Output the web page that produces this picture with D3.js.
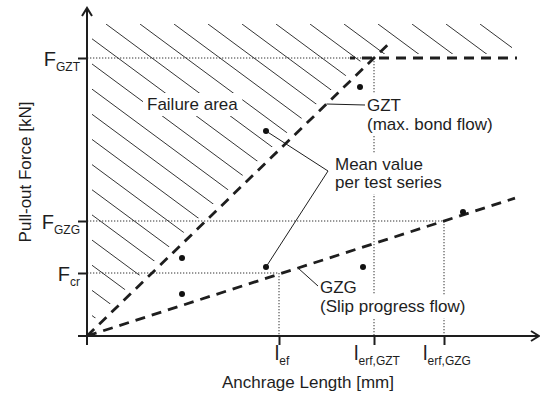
<!DOCTYPE html>
<html><head><meta charset="utf-8">
<script src="https://cdn.jsdelivr.net/npm/d3@7"></script>
<style>
body{margin:0;background:#fff}
svg{display:block;font-family:"Liberation Sans",Arial,Helvetica,sans-serif}
</style></head><body>
<svg id="chart" width="540" height="397"></svg>
<script>
// Schematic units: anchorage length (x) and pull-out force (y)
const axisMax = [452, 328];

// Characteristic lengths on the x axis
const lengthValues = [192, 287, 357];
const lengthSubs = ["ef", "erf,GZT", "erf,GZG"];

// Characteristic forces on the y axis (same order: each force belongs to the length above)
const forceValues = [63, 278, 115];
const forceSubs = ["cr", "GZT", "GZG"];

// Mean value per test series
const meanX = [95, 95, 179, 179, 276, 273, 376];
const meanY = [78, 42, 205, 69, 69, 249, 124];

// Limit lines: GZT rises to F_GZT at l_erf,GZT then stays level; GZG reaches F_GZG at l_erf,GZG
const gztRiseX = [0, 304];
const gztPlateauX = [263, 430];
const gzgX = [0, 428];

const svg = d3.select("#chart");
const ink = "#1e1e1e";

const x = d3.scaleLinear().domain([0, axisMax[0]]).range([87, 539]);
const y = d3.scaleLinear().domain([0, axisMax[1]]).range([336, 8]);

const lGZT = lengthValues[1], lGZG = lengthValues[2];
const fGZT = forceValues[1], fGZG = forceValues[2];
const gztSlope = fGZT / lGZT;
const gzgSlope = fGZG / lGZG;

// ---- Hatched failure area (above the GZT limit) ----
const slopePx = (y(0) - y(fGZT)) / (x(lGZT) - x(0));
const hx0 = x(0) + 5, hTop = 24, hRight = x(425), hBottom = y(fGZT) - 4, gap = 10;
const diagX = py => x(0) + (y(0) - py) / slopePx - gap;
const leftBottom = y(0) - (hx0 - x(0) + gap) * slopePx;
svg.append("clipPath").attr("id", "hatchClip")
  .append("polygon")
  .attr("points", [[hx0, hTop], [hRight, hTop], [hRight, hBottom], [diagX(hBottom), hBottom], [hx0, leftBottom]]
    .map(p => p.join(",")).join(" "));

const hatch = svg.append("g").attr("clip-path", "url(#hatchClip)");
const hatchSlope = 0.74, hatchStep = 34;
for (let k = -14; k <= 14; k++) {
  const xs = 106 + hatchStep * k;
  hatch.append("line")
    .attr("x1", xs).attr("y1", hTop)
    .attr("x2", xs + 500).attr("y2", hTop + 500 * hatchSlope)
    .attr("stroke", ink).attr("stroke-width", 0.9);
}

// ---- Dotted guide lines ----
const guides = svg.append("g").attr("stroke", "#333").attr("stroke-width", 1)
  .attr("stroke-dasharray", "1.3,1.7").attr("fill", "none");
forceValues.forEach((f, i) => {
  guides.append("line").attr("x1", x(0)).attr("x2", x(lengthValues[i]))
    .attr("y1", y(f)).attr("y2", y(f));
  guides.append("line").attr("x1", x(lengthValues[i])).attr("x2", x(lengthValues[i]))
    .attr("y1", y(f)).attr("y2", y(0));
});

// ---- Annotation text with white knock-out boxes ----
const notes = svg.append("g").attr("font-size", 17).attr("fill", ink);
function note(tx, ty, str) {
  const t = notes.append("text").attr("x", tx).attr("y", ty).text(str);
  const b = t.node().getBBox();
  notes.insert("rect", "text")
    .attr("x", b.x - 4).attr("y", b.y - 2).attr("width", b.width + 8).attr("height", b.height + 4)
    .attr("fill", "#fff");
  return t;
}
note(147, 110, "Failure area");
note(367, 111, "GZT");
note(367, 130, "(max. bond flow)");
note(335, 170, "Mean value");
note(335, 188, "per test series");
note(320, 293, "GZG");
note(320, 312, "(Slip progress flow)");

// ---- Limit lines (dashed) ----
const line = d3.line().x(d => x(d[0])).y(d => y(d[1]));
const limits = svg.append("g").attr("fill", "none").attr("stroke", ink)
  .attr("stroke-width", 2.8).attr("stroke-dasharray", "10,7");
limits.append("path").attr("d", line(gztRiseX.map(v => [v, v * gztSlope])));
limits.append("path").attr("d", line(gztPlateauX.map(v => [v, fGZT])))
  .attr("stroke-dashoffset", 5);
limits.append("path").attr("d", line(gzgX.map(v => [v, v * gzgSlope])));

// ---- Axes ----
const axes = svg.append("g").attr("stroke", ink).attr("stroke-width", 2).attr("fill", "none");
axes.append("line").attr("x1", x(0) - 9).attr("x2", x(axisMax[0])).attr("y1", y(0)).attr("y2", y(0));
axes.append("line").attr("x1", x(0)).attr("x2", x(0)).attr("y1", y(0) + 9).attr("y2", y(axisMax[1]));
axes.append("polyline").attr("points",
  `${x(0) - 5},${y(axisMax[1]) + 8} ${x(0)},${y(axisMax[1])} ${x(0) + 5},${y(axisMax[1]) + 8}`);
axes.append("polyline").attr("points",
  `${x(axisMax[0]) - 8},${y(0) - 5} ${x(axisMax[0])},${y(0)} ${x(axisMax[0]) - 8},${y(0) + 5}`);

const xAxis = svg.append("g").attr("transform", `translate(0,${y(0)})`)
  .call(d3.axisBottom(x).tickValues(lengthValues).tickSize(9).tickFormat(""));
const yAxis = svg.append("g").attr("transform", `translate(${x(0)},0)`)
  .call(d3.axisLeft(y).tickValues(forceValues).tickSize(9).tickFormat(""));
[xAxis, yAxis].forEach(g => {
  g.select(".domain").remove();
  g.selectAll(".tick line").attr("stroke", ink).attr("stroke-width", 2);
});

// Tick labels with subscripts
const tickLabels = svg.append("g").attr("fill", ink);
lengthValues.forEach((v, i) => {
  const t = tickLabels.append("text").attr("x", x(v) + 3).attr("y", y(0) + 24)
    .attr("text-anchor", "middle").attr("font-size", 20);
  t.append("tspan").text("l");
  t.append("tspan").attr("font-size", 12).attr("dy", 5).text(lengthSubs[i]);
});
forceValues.forEach((v, i) => {
  const t = tickLabels.append("text").attr("x", x(0) - 7).attr("y", y(v) + 8)
    .attr("text-anchor", "end").attr("font-size", 20);
  t.append("tspan").text("F");
  t.append("tspan").attr("font-size", 12).attr("dy", 5).text(forceSubs[i]);
});

// Axis titles
svg.append("text").attr("x", 308).attr("y", 388).attr("text-anchor", "middle")
  .attr("font-size", 17).attr("fill", ink).text("Anchrage Length [mm]");
svg.append("text").attr("transform", "translate(31,172) rotate(-90)").attr("text-anchor", "middle")
  .attr("font-size", 17).attr("fill", ink).text("Pull-out Force [kN]");

// ---- Mean values ----
svg.append("g").selectAll("circle").data(meanX.map((v, i) => [v, meanY[i]])).join("circle")
  .attr("cx", d => x(d[0])).attr("cy", d => y(d[1])).attr("r", 3).attr("fill", "#111");

// ---- Leader lines ----
const leaders = svg.append("g").attr("stroke", ink).attr("stroke-width", 1).attr("fill", "none");
const gztAt = 232 / gztSlope;               // point on GZT line where its label attaches
leaders.append("path").attr("d", line([[gztAt, 232], [278, 231]]));
const meanVertex = [241, 165];
leaders.append("path").attr("d", line([[meanX[2], meanY[2]], meanVertex, [meanX[3], meanY[3]]]));
const gzgAt = 211;                           // point on GZG line where its label attaches
leaders.append("path").attr("d", line([[gzgAt, gzgAt * gzgSlope], [231, 50]]));
</script>
</body></html>
